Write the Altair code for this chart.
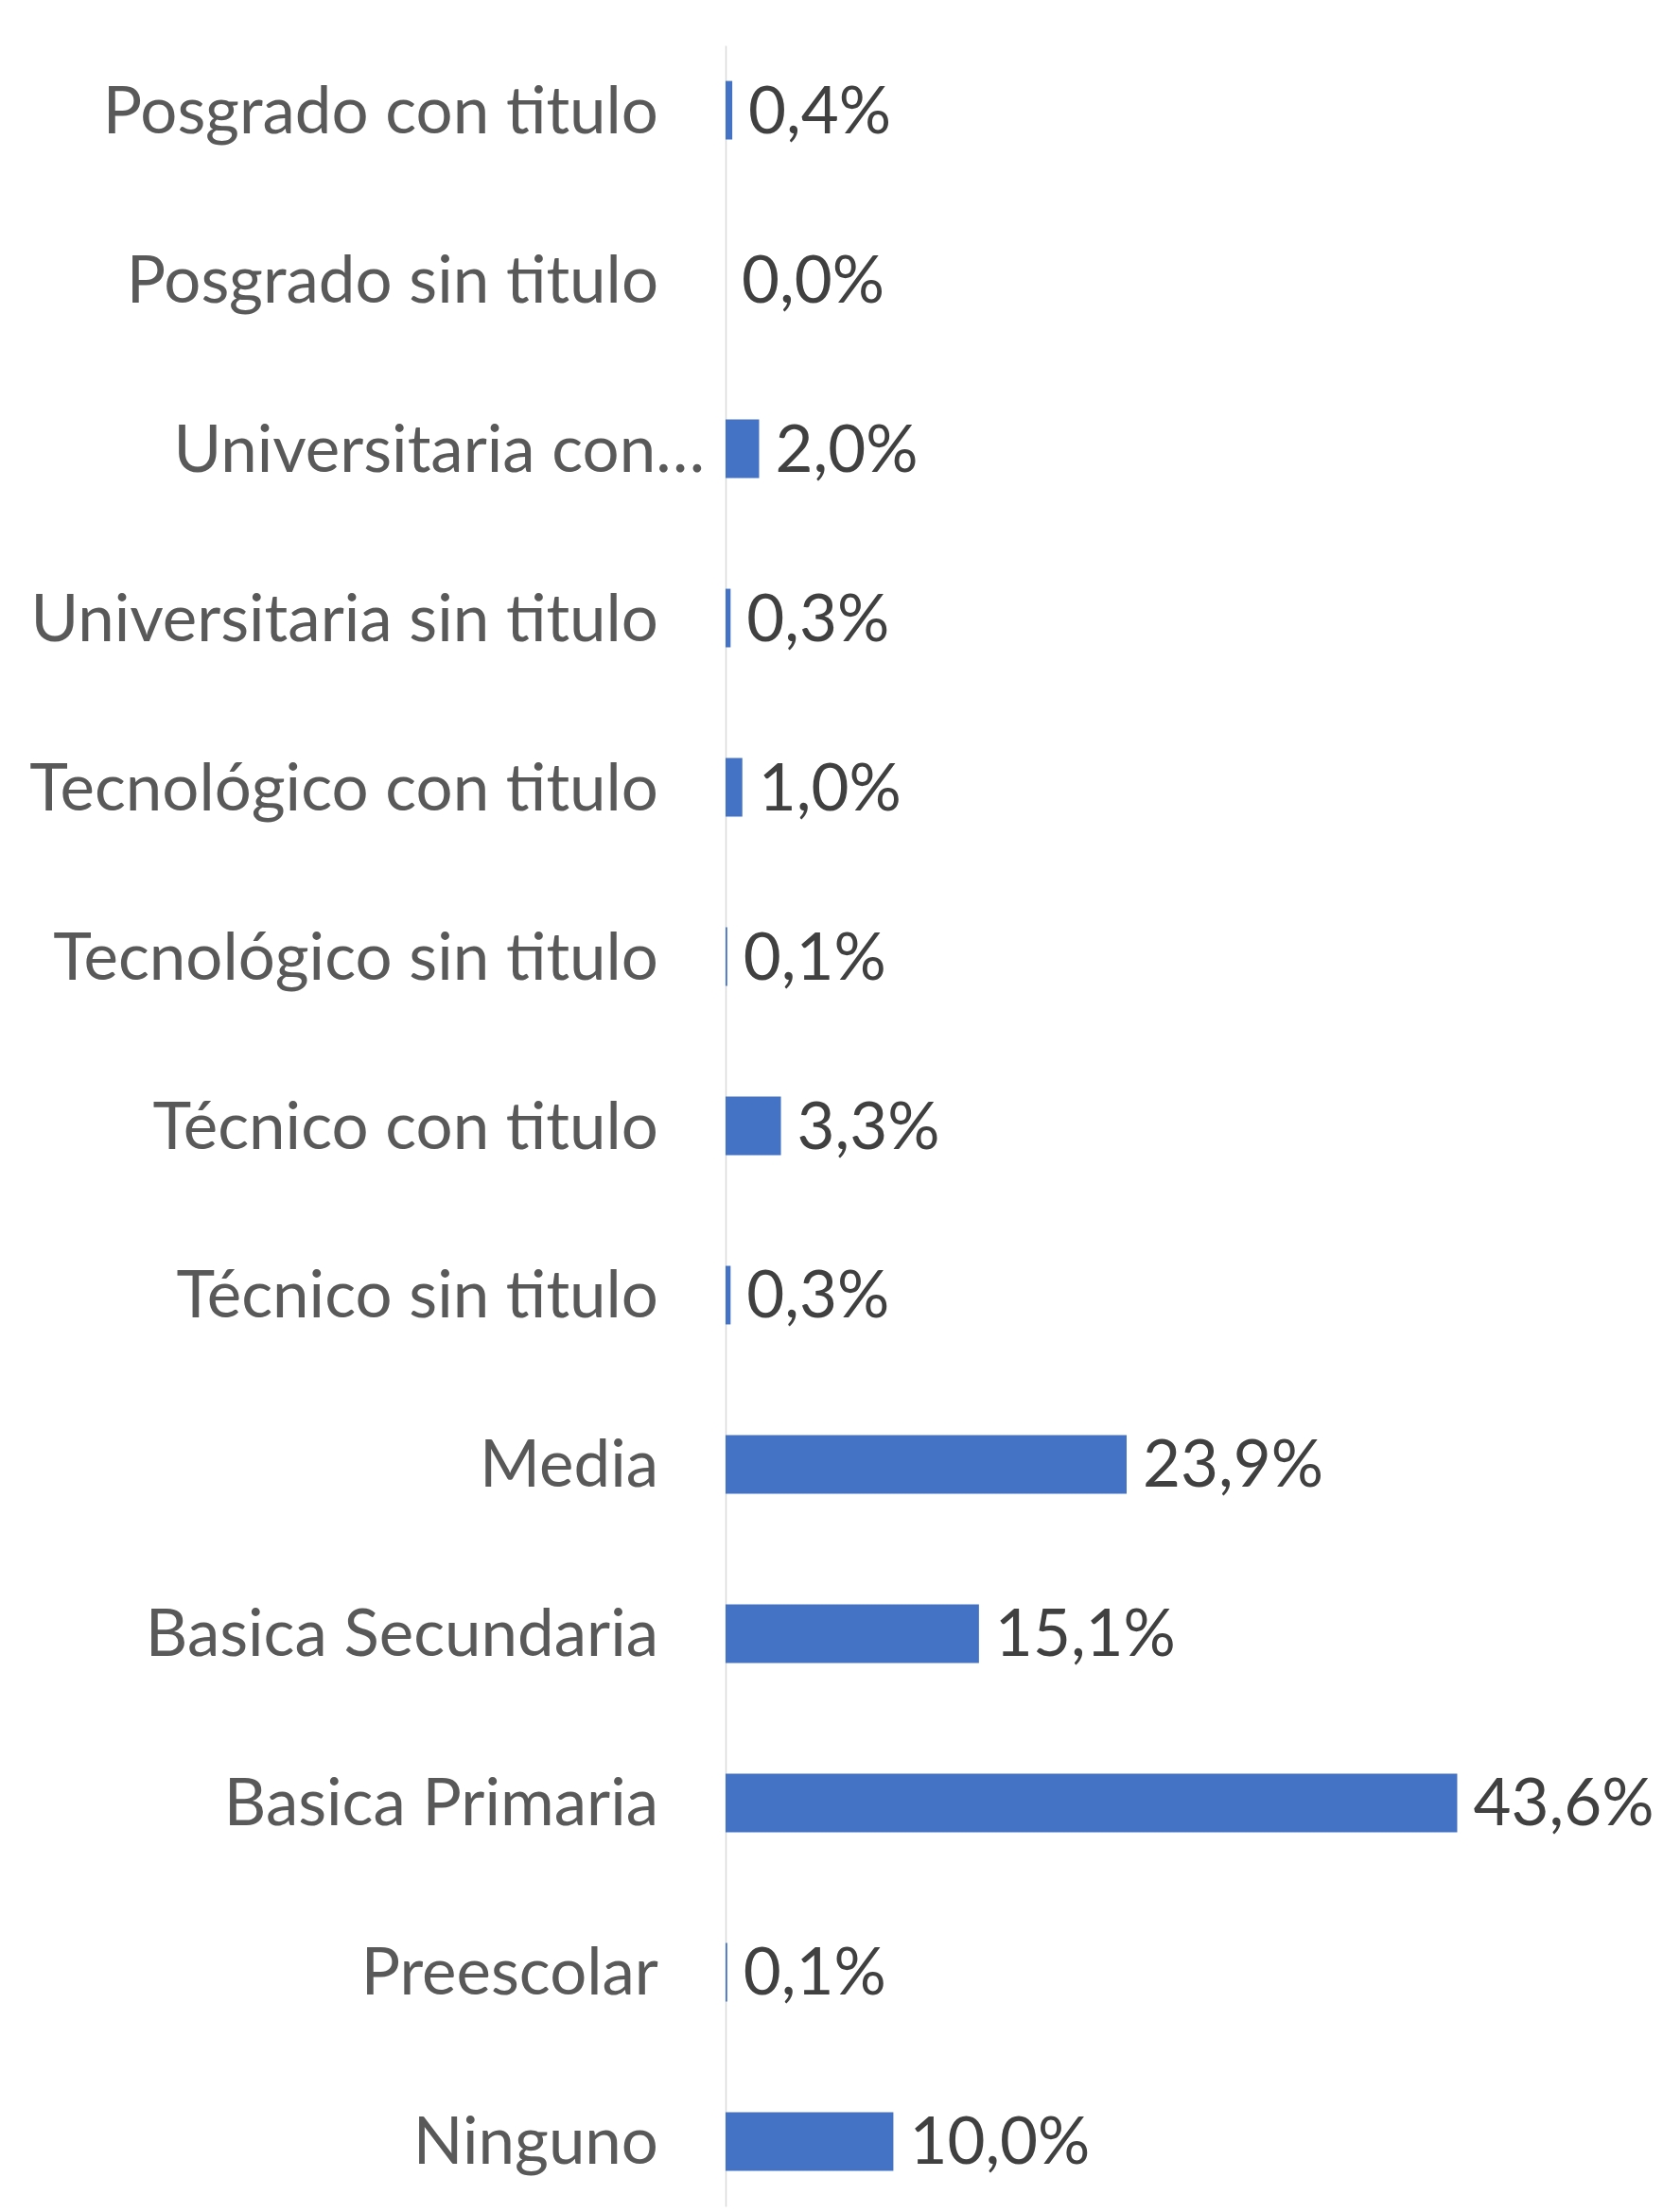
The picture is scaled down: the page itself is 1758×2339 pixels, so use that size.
import altair as alt
import pandas as pd

categories = [
    "Posgrado con titulo",
    "Posgrado sin titulo",
    "Universitaria con…",
    "Universitaria sin titulo",
    "Tecnológico con titulo",
    "Tecnológico sin titulo",
    "Técnico con titulo",
    "Técnico sin titulo",
    "Media",
    "Basica Secundaria",
    "Basica Primaria",
    "Preescolar",
    "Ninguno",
]
values = [0.4, 0.0, 2.0, 0.3, 1.0, 0.1, 3.3, 0.3, 23.9, 15.1, 43.6, 0.1, 10.0]
truncated = [c.endswith("…") for c in categories]

df = pd.DataFrame({
    "cat": categories,
    "val": values,
    "trunc": truncated,
    "label": [f"{v:.1f}".replace(".", ",") + "%" for v in values],
})

FONT = "Lato"
FS = 69

y = alt.Y(
    "cat:N",
    sort=categories,
    title=None,
    scale=alt.Scale(paddingInner=0.654, paddingOuter=0.21),
    axis=alt.Axis(
        ticks=False,
        labels=False,
        domainColor="#D9D9D9",
        domainWidth=1.5,
    ),
)
x = alt.X("val:Q", scale=alt.Scale(domain=[0, 50]), axis=None)

bars = alt.Chart(df).mark_bar(color="#4472C4").encode(x=x, y=y)
text = alt.Chart(df).mark_text(
    align="left", baseline="middle", dx=17, dy=3, font=FONT, fontSize=FS, color="#404040"
).encode(x=x, y=y, text="label:N")

cat_labels = alt.Chart(df).transform_filter("!datum.trunc").mark_text(
    align="right", baseline="middle", dx=-71, dy=3, font=FONT, fontSize=FS, color="#595959"
).encode(x=alt.value(0), y=y, text="cat:N")

cat_labels_trunc = alt.Chart(df).transform_filter("datum.trunc").mark_text(
    align="right", baseline="middle", dx=-22, dy=3, font=FONT, fontSize=FS, color="#595959"
).encode(x=alt.value(0), y=y, text="cat:N")

chart = (
    (bars + text + cat_labels + cat_labels_trunc)
    .properties(
        width=887,
        height=2285,
        autosize="none",
        padding={"left": 759, "top": 40, "right": 96, "bottom": 6},
        background="white",
    )
    .configure_view(stroke=None)
)

chart.save("out.html", embed_options={"renderer": "svg", "actions": False})
